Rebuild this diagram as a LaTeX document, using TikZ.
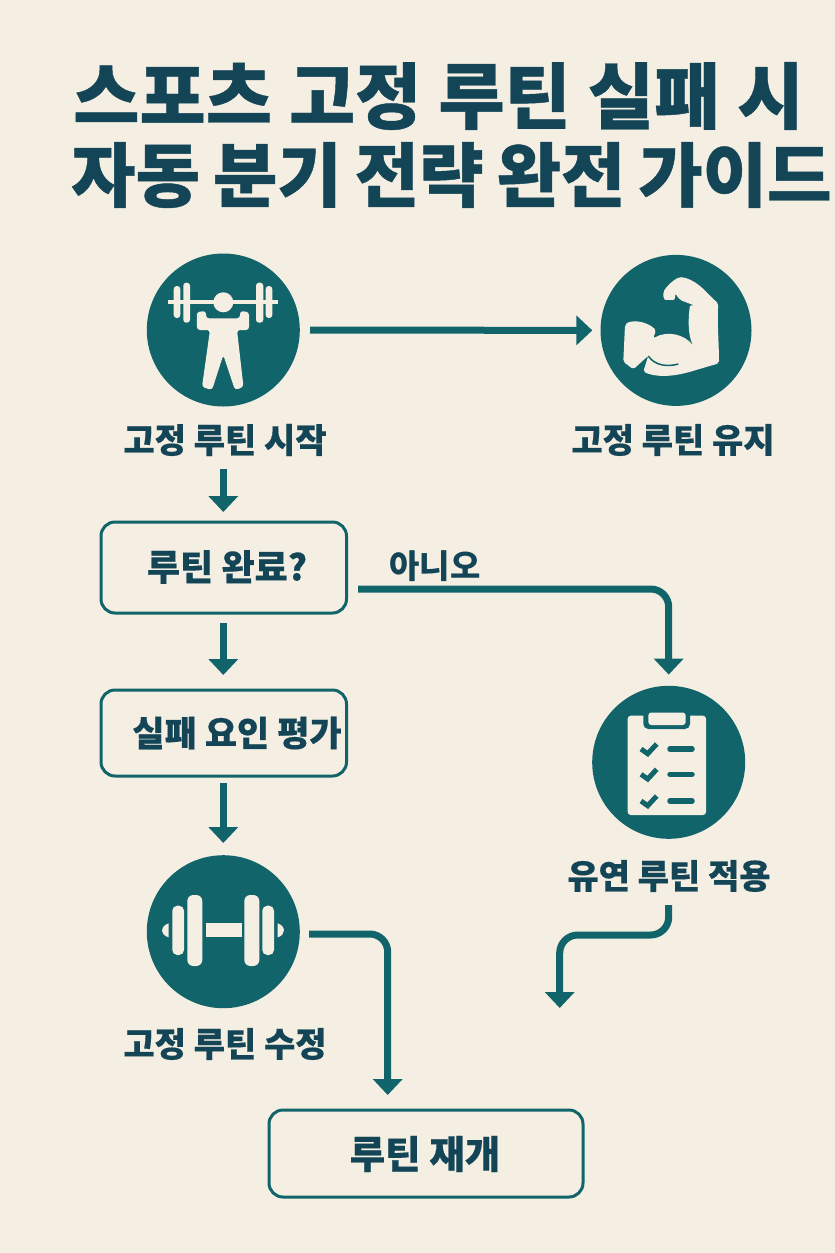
\documentclass[tikz,border=0pt]{standalone}
\usepackage{fontspec}
\setmainfont{Noto Sans CJK KR}
\newfontfamily\headfont[BoldFeatures={FakeBold=0.6}]{Noto Sans CJK KR}
\newfontfamily\stepfont[BoldFeatures={FakeBold=0.35}]{Noto Sans CJK KR}
\usetikzlibrary{arrows.meta}
\definecolor{pagecream}{HTML}{F5EFE3}
\definecolor{routineteal}{HTML}{12646B}
\definecolor{titleink}{HTML}{134557}

\tikzset{
  iconcircle/.style={circle, fill=routineteal, minimum size=153pt, inner sep=0pt},
  steplabel/.style={font=\stepfont\fontsize{34}{36}\selectfont\bfseries, text=titleink, inner sep=0pt},
  stepbox/.style={draw=routineteal, line width=3pt, rounded corners=14pt, inner sep=0pt},
  titleline/.style={text=titleink, inner sep=0pt, anchor=west},
  flowarrow/.style={-{Triangle[length=16pt,width=29pt]}, line width=7pt, routineteal},
  iconpart/.style={fill=pagecream, draw=none}
}

\begin{document}
\begin{tikzpicture}[x=1pt,y=-1pt]
  \useasboundingbox (0,0) rectangle (835,1253);
  \clip (0,0) rectangle (835,1253);
  \fill[pagecream] (0,0) rectangle (835,1253);

  % Title
  \node[titleline, font=\headfont\fontsize{72}{76}\selectfont\bfseries] (title1) at (73,96) {\spaceskip=17pt 스포츠 고정 루틴 실패 시};
  \node[titleline, font=\headfont\fontsize{70}{76}\selectfont\bfseries] (title2) at (71,175) {\spaceskip=13pt 자동 분기 전략 완전 가이드};

  % Circles
  \node[iconcircle] (lifter) at (223.3,330) {};
  \node[iconcircle, minimum size=151pt] (flex) at (676,330.4) {};
  \node[iconcircle] (clipboard) at (668.7,762.3) {};
  \node[iconcircle] (dumbbell) at (223.3,931.7) {};

  % Labels
  \node[steplabel] (startlabel) at (225,440) {고정 루틴 시작};
  \node[steplabel] (keeplabel) at (673,440) {고정 루틴 유지};
  \node[steplabel] (flexlabel) at (669,876) {유연 루틴 적용};
  \node[steplabel] (editlabel) at (225,1044) {고정 루틴 수정};
  \node[font=\fontsize{33}{36}\selectfont\bfseries, text=titleink, inner sep=0pt] (nolabel) at (435,566) {아니오};

  % Boxes
  \draw[stepbox] (101,522) rectangle (346.5,613);
  \node[steplabel, font=\stepfont\fontsize{36}{38}\selectfont\bfseries] (donetext) at (227,567) {루틴 완료?};
  \coordinate (startout) at (223.3,469);
  \coordinate (donetop) at (223.3,522);
  \coordinate (donebottom) at (223.3,613);
  \coordinate (doneout) at (358,589);
  \draw[stepbox] (101,690) rectangle (346.5,776);
  \node[steplabel, font=\stepfont\fontsize{35}{38}\selectfont\bfseries] (evaltext) at (237,733) {실패 요인 평가};
  \coordinate (evaltop) at (223.3,690);
  \coordinate (evalbottom) at (223.3,776);
  \draw[stepbox] (269,1110) rectangle (583,1197);
  \node[steplabel, font=\stepfont\fontsize{38.5}{42}\selectfont\bfseries] (resumetext) at (425,1154) {루틴 재개};
  \coordinate (editout) at (309,934);
  \coordinate (resumetop) at (387.7,1110);
  \coordinate (flexfree) at (559.7,1008);
  \coordinate (flexout) at (668.7,905);
  \coordinate (flexbend) at (668.7,935);
  \coordinate (freebend) at (559.7,935);

  % Connectors
  \draw[flowarrow, shorten <=10pt, shorten >=8pt] (lifter.east) -- (flex.west);
  \draw[flowarrow, shorten >=10pt] (startout) -- (donetop);
  \draw[flowarrow, shorten <=10pt, shorten >=15pt] (donebottom) -- (evaltop);
  \draw[flowarrow, shorten <=7pt, shorten >=12pt] (evalbottom) -- (dumbbell.north);
  \draw[flowarrow, rounded corners=18pt] (doneout) -| ([yshift=11pt]clipboard.north);
  \draw[flowarrow, rounded corners=18pt] (editout) -| ([yshift=15pt]resumetop);
  \draw[flowarrow, rounded corners=18pt] (flexout) -- (flexbend) -- (freebend) -- (flexfree);

  % Weightlifter
  \fill[iconpart] (167.7,300.3) rectangle (277.7,304.3);
  \fill[iconpart] (223.3,302.3) circle (10);
  \fill[iconpart, rounded corners=3pt] (183.3,282.7) rectangle (190,322.7);
  \fill[iconpart, rounded corners=3pt] (173.7,286) rectangle (180.3,318);
  \fill[iconpart, rounded corners=3pt] (256,282.7) rectangle (263.3,322.7);
  \fill[iconpart, rounded corners=3pt] (265.7,286) rectangle (272.3,318);
  \fill[iconpart, rounded corners=3pt] (196.7,312) -- (206,311) -- (206,318.3) -- (240,318.3) -- (240,311) -- (249,312)
    -- (249,330) -- (237,330) -- (243.5,387) -- (235,390) -- (223.3,355) -- (212,390) -- (202,387) -- (210,330) -- (197,330) -- cycle;

  % Flexed arm
  \fill[iconpart, rounded corners=2pt] (625,325) .. controls (630,320) and (645,320) .. (656,330)
    -- (653.3,338.3) .. controls (668,330) and (685,335) .. (693.3,346) .. controls (688,335) and (688,320) .. (690,305)
    -- (695,305.7) -- (680,300) -- (675,293.3) -- (675,300) .. controls (670,300) and (665,300) .. (663.3,298)
    -- (663.3,291.7) .. controls (670,282) and (678,277) .. (683,277.3) .. controls (700,282) and (708,295) .. (718.3,303.3)
    .. controls (717,320) and (719,345) .. (719,363.3) -- (696,370) .. controls (680,375) and (660,379) .. (643.3,371.7)
    -- (648.3,355.7) -- (633.3,369.3) -- (623.3,361.7) -- cycle;
  \draw[routineteal, line width=1.5pt] (648.3,356) .. controls (655,366) and (668,367) .. (678.3,364);

  % Clipboard
  \fill[iconpart, rounded corners=3pt] (627.7,715.7) rectangle (706,815);
  \fill[routineteal, rounded corners=5pt] (643.3,710) rectangle (690,729);
  \fill[iconpart, rounded corners=3pt] (648.3,712.5) rectangle (685.7,725);
  \foreach \rowy in {749,774.3,801} {
    \draw[routineteal, line width=5pt] (641,\rowy) -- (647.7,\rowy+4.7) -- (656.7,\rowy-5);
    \draw[routineteal, line width=5.5pt, line cap=round] (670,\rowy) -- (692,\rowy);
  }

  % Dumbbell
  \fill[iconpart, rounded corners=6pt] (187.3,895) rectangle (202.3,966);
  \fill[iconpart, rounded corners=5pt] (172.3,905.7) rectangle (184,955);
  \fill[iconpart] (205.7,923.3) rectangle (241.7,937.3);
  \fill[iconpart, rounded corners=6pt] (244.3,895) rectangle (259.3,966);
  \fill[iconpart, rounded corners=5pt] (262.3,905.7) rectangle (274,955);
  \fill[iconpart] (168.7,923.3) .. controls (160,926) and (160,935) .. (168.7,937.3) -- cycle;
  \fill[iconpart] (277.7,923.3) .. controls (286,926) and (286,935) .. (277.7,937.3) -- cycle;
\end{tikzpicture}
\end{document}
